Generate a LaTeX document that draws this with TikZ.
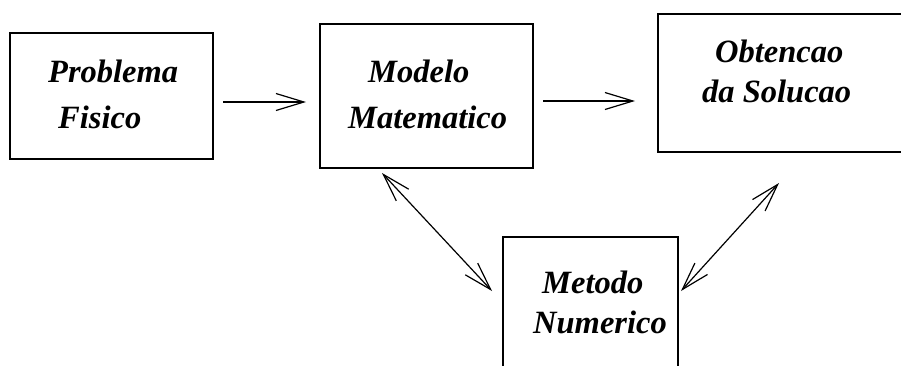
\documentclass[tikz,border=0pt]{standalone}
\usepackage{fontspec}
\setmainfont{Liberation Serif}
\usetikzlibrary{arrows.meta}
\begin{document}
\begin{tikzpicture}[x=1pt,y=-1pt,
  boxframe/.style={draw, line width=1.7pt},
  lbl/.style={anchor=base west, inner sep=0pt, font=\fontsize{32.5}{38}\selectfont\bfseries\itshape},
  conn/.style={line width=1.2pt, -{Straight Barb[length=28pt,width=17pt,line width=1.2pt]}},
  bconn/.style={line width=1.2pt, {Straight Barb[length=28pt,width=17pt,line width=1.2pt]}-{Straight Barb[length=28pt,width=17pt,line width=1.2pt]}}]
\useasboundingbox (0,0) rectangle (901,365);
\fill[white] (0,0) rectangle (901,365);
\clip (0,0) rectangle (901,365);
% boxes
\draw[boxframe] (10,33) rectangle (213,159);
\draw[boxframe] (320,24) rectangle (533,168);
\draw[boxframe] (658,14) rectangle (910,152);
\draw[boxframe] (503,237) rectangle (678,380);
% labels
\node[lbl] (t1a) at (48,82) {Problema};
\node[lbl] (t1b) at (58,128) {Fisico};
\node[lbl] (t2a) at (368,82) {Modelo};
\node[lbl] (t2b) at (348,128) {Matematico};
\node[lbl] (t3a) at (715,62) {Obtencao};
\node[lbl] (t3b) at (702,102) {da Solucao};
\node[lbl] (t4a) at (542,293) {Metodo};
\node[lbl] (t4b) at (533,333) {Numerico};
% connector endpoints
\coordinate (a1s) at (223,102);
\coordinate (a1e) at (306,102);
\coordinate (a2s) at (543,101);
\coordinate (a2e) at (635,101);
\coordinate (a3s) at (382,173);
\coordinate (a3e) at (492,291);
\coordinate (a4s) at (779,183);
\coordinate (a4e) at (681,291);
\draw[conn] (a1s) -- (a1e);
\draw[conn] (a2s) -- (a2e);
\draw[bconn] (a3s) -- (a3e);
\draw[bconn] (a4s) -- (a4e);
\end{tikzpicture}
\end{document}
